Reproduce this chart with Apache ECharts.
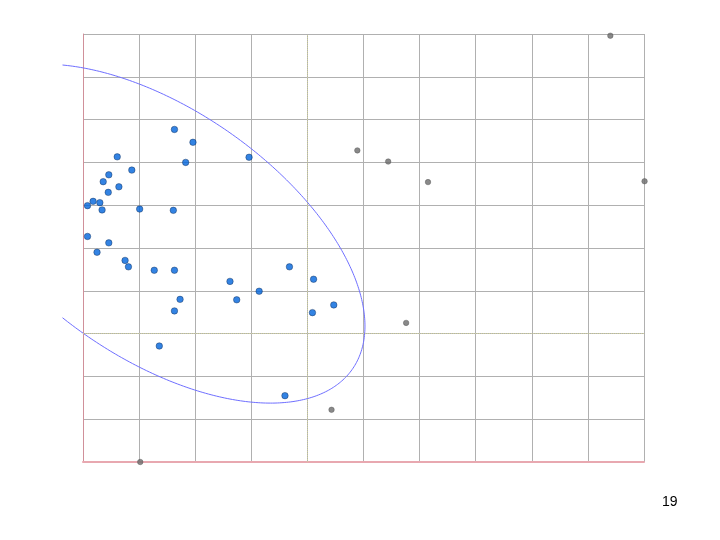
<!DOCTYPE html>
<html>
<head>
<meta charset="utf-8">
<script src="https://cdn.jsdelivr.net/npm/echarts@6/dist/echarts.min.js"></script>
<style>html,body{margin:0;padding:0;background:#fff;}#c{width:720px;height:540px;}</style>
</head>
<body>
<div id="c"></div>
<script>
// Blue group points [x, y]
var bluePoints = [
  [1.63, 7.77], [1.96, 7.47], [0.61, 7.13], [1.83, 7.00], [2.96, 7.12],
  [0.87, 6.82], [0.46, 6.71], [0.36, 6.55], [0.64, 6.43], [0.45, 6.30],
  [0.18, 6.09], [0.08, 5.99], [0.30, 6.06], [0.34, 5.89], [1.01, 5.91],
  [1.61, 5.88], [0.08, 5.27], [0.46, 5.12], [0.25, 4.90], [0.75, 4.71],
  [0.81, 4.56], [1.27, 4.48], [1.63, 4.48], [3.68, 4.56], [2.62, 4.22],
  [4.11, 4.27], [3.14, 3.99], [2.74, 3.79], [1.73, 3.80], [1.63, 3.53],
  [4.09, 3.49], [4.47, 3.67], [1.36, 2.71], [3.60, 1.55]
];
// Gray group points [x, y]
var grayPoints = [
  [4.89, 7.28], [5.44, 7.02], [6.15, 6.54], [9.40, 9.96],
  [10.01, 6.56], [5.76, 3.25], [4.43, 1.22], [1.02, 0.0]
];
// Axis setup
var xMin = 0, xMax = 10, xStep = 1;
var yMin = 0, yMax = 10, yStep = 1;
// Ellipse descriptor (data units): centre, x half-extent, y half-extent, phase, left clip
var ellipseCentre = [1.326, 5.336];
var ellipseHalfX = 3.70;
var ellipseHalfY = 3.96;
var ellipsePhase = 0.994;
var ellipseClipX = -0.365;
var pageNumber = '19';

var ellipsePts = [];
var tLim = Math.acos((ellipseClipX - ellipseCentre[0]) / ellipseHalfX);
var N = 300;
for (var i = 0; i <= N; i++) {
  var t = -tLim + (2 * tLim) * i / N;
  ellipsePts.push([
    ellipseCentre[0] + ellipseHalfX * Math.cos(t),
    ellipseCentre[1] - ellipseHalfY * Math.cos(t - ellipsePhase)
  ]);
}

var chart = echarts.init(document.getElementById('c'), null, {renderer: 'canvas'});
chart.setOption({
  animation: false,
  backgroundColor: '#ffffff',
  grid: {left: 83, right: 76, top: 34, bottom: 78, show: false},
  xAxis: {
    type: 'value', min: xMin, max: xMax, interval: xStep,
    axisLine: {show: true, onZero: false, lineStyle: {color: '#e8a8b0', width: 2}},
    axisTick: {show: false}, axisLabel: {show: false},
    splitLine: {show: true, showMinLine: false, lineStyle: {color: '#b0b0b0', width: 1}}
  },
  yAxis: {
    type: 'value', min: yMin, max: yMax, interval: yStep,
    axisLine: {show: true, onZero: false, lineStyle: {color: '#d0909a', width: 1}},
    axisTick: {show: false}, axisLabel: {show: false},
    splitLine: {show: true, showMinLine: false, lineStyle: {color: '#b0b0b0', width: 1}}
  },
  series: [
    {
      type: 'custom', clip: false, silent: true, z: 3,
      data: [0],
      renderItem: function (params, api) {
        var pts = ellipsePts.map(function (p) { return api.coord(p); });
        return {
          type: 'polyline',
          shape: {points: pts},
          style: {stroke: '#6f6fff', lineWidth: 1, fill: null}
        };
      }
    },
    {
      type: 'scatter', data: bluePoints, symbol: 'circle', symbolSize: 6.5, clip: false,
      itemStyle: {color: '#0064dc', borderColor: '#0a2448', borderWidth: 0.5}, z: 4
    },
    {
      type: 'scatter', data: grayPoints, symbol: 'circle', symbolSize: 5.5, clip: false,
      itemStyle: {color: '#6c6c6c', borderColor: '#4a4a4a', borderWidth: 0.5}, z: 4,
      markLine: {
        silent: true, symbol: 'none', label: {show: false}, animation: false,
        lineStyle: {color: '#cfcf9c', type: 'dotted', width: 1},
        data: [{xAxis: 4}, {yAxis: 3}]
      }
    }
  ],
  graphic: [{
    type: 'text', left: 662, top: 495,
    style: {text: pageNumber, fill: '#000', font: '14px "Liberation Sans", Arial, sans-serif'}
  }]
});
</script>
</body>
</html>
